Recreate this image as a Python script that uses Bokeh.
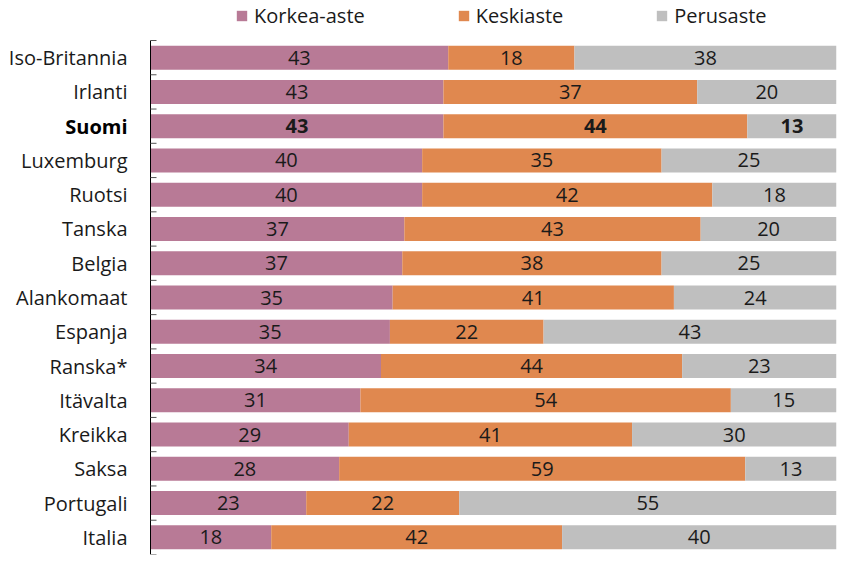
from bokeh.plotting import figure
from bokeh.models import ColumnDataSource, Legend, LegendItem, Range1d
from bokeh.core.properties import value
from bokeh.embed import file_html
from bokeh.resources import INLINE

countries = ["Iso-Britannia", "Irlanti", "Suomi", "Luxemburg", "Ruotsi", "Tanska", "Belgia",
             "Alankomaat", "Espanja", "Ranska*", "Itävalta", "Kreikka", "Saksa", "Portugali", "Italia"]
korkea = [43.4, 42.7, 42.7, 39.6, 39.6, 37.0, 36.7, 35.3, 34.9, 33.6, 30.6, 28.9, 27.5, 22.7, 17.6]
keski = [18.4, 37.0, 44.3, 34.9, 42.3, 43.2, 37.8, 41.0, 22.4, 43.9, 54.0, 41.3, 59.2, 22.3, 42.4]
perus = [38.2, 20.3, 13.0, 25.5, 18.1, 19.8, 25.5, 23.7, 42.7, 22.5, 15.4, 29.8, 13.3, 55.0, 40.0]
korkea_lbl = [43, 43, 43, 40, 40, 37, 37, 35, 35, 34, 31, 29, 28, 23, 18]
keski_lbl = [18, 37, 44, 35, 42, 43, 38, 41, 22, 44, 54, 41, 59, 22, 42]
perus_lbl = [38, 20, 13, 25, 18, 20, 25, 24, 43, 23, 15, 30, 13, 55, 40]
series = ["Korkea-aste", "Keskiaste", "Perusaste"]
highlight = "Suomi"

colors = ["#B87A96", "#E0884F", "#BFBFBF"]
FONT = "Open Sans"
FS = "20px"
TXT = "#1a1a1a"

W, H = 837, 556
LEFT_PX, RIGHT_PX, BOTTOM_PX = 150, 1, 2
TOP_SPACE = 40      # room for the legend above the bars
STANDOFF = 23       # gap between axis line and country names
TICK_PX = 6
LEGEND_X, LEGEND_H = 235, 29

n = len(countries)
ys = list(range(n))
row_px = (H - BOTTOM_PX - TOP_SPACE) / n
ppu = (W - LEFT_PX - RIGHT_PX) / 100.0

p = figure(width=W, height=H, output_backend="svg", toolbar_location=None,
           title=None, x_range=Range1d(-LEFT_PX / ppu, 100),
           y_range=Range1d(n - 0.5, -0.5 - TOP_SPACE / row_px),
           x_axis_location=None, y_axis_location=None,
           min_border_left=0, min_border_right=RIGHT_PX,
           min_border_top=0, min_border_bottom=BOTTOM_PX)
p.outline_line_color = None
p.grid.visible = False

src = ColumnDataSource(dict(y=ys, korkea=korkea, keski=keski, perus=perus))
rs = p.hbar_stack(["korkea", "keski", "perus"], y="y", height=0.7, color=colors,
                  line_color=None, source=src)

# category axis: line plus short ticks at the row boundaries
p.segment(x0=[0], y0=[-0.5], x1=[0], y1=[n - 0.5], line_color="#000000", line_width=1)
bounds = [i - 0.5 for i in range(n + 1)]
p.segment(x0=[0] * len(bounds), y0=bounds, x1=[TICK_PX / ppu] * len(bounds), y1=bounds,
          line_color="#555555", line_width=1)

# category names
p.text(x=[-STANDOFF / ppu] * n, y=ys, text=countries,
       text_font_style=["bold" if c == highlight else "normal" for c in countries],
       text_color=["#000000" if c == highlight else TXT for c in countries],
       text_align="right", text_baseline="middle", text_font=value(FONT),
       text_font_size=FS)

# value labels
lx, ly, lt, ls = [], [], [], []
for i in range(n):
    start = 0.0
    for v, lab in ((korkea[i], korkea_lbl[i]), (keski[i], keski_lbl[i]), (perus[i], perus_lbl[i])):
        lx.append(start + v / 2)
        ly.append(i)
        lt.append(str(lab))
        ls.append("bold" if countries[i] == highlight else "normal")
        start += v
p.text(x="x", y="y", text="t", text_font_style="s",
       source=ColumnDataSource(dict(x=lx, y=ly, t=lt, s=ls)),
       text_align="center", text_baseline="middle", text_font=value(FONT),
       text_font_size=FS, text_color=TXT)

legend = Legend(items=[LegendItem(label=s, renderers=[r]) for s, r in zip(series, rs)],
                orientation="horizontal",
                location=(LEGEND_X, H - BOTTOM_PX - LEGEND_H),
                glyph_width=13, glyph_height=13,
                label_standoff=6, spacing=92, padding=0, margin=0,
                label_text_font=FONT, label_text_font_size=FS, label_text_color=TXT,
                border_line_color=None, background_fill_alpha=0)
p.add_layout(legend, "center")

open("out.html", "w").write(file_html(p, INLINE))
